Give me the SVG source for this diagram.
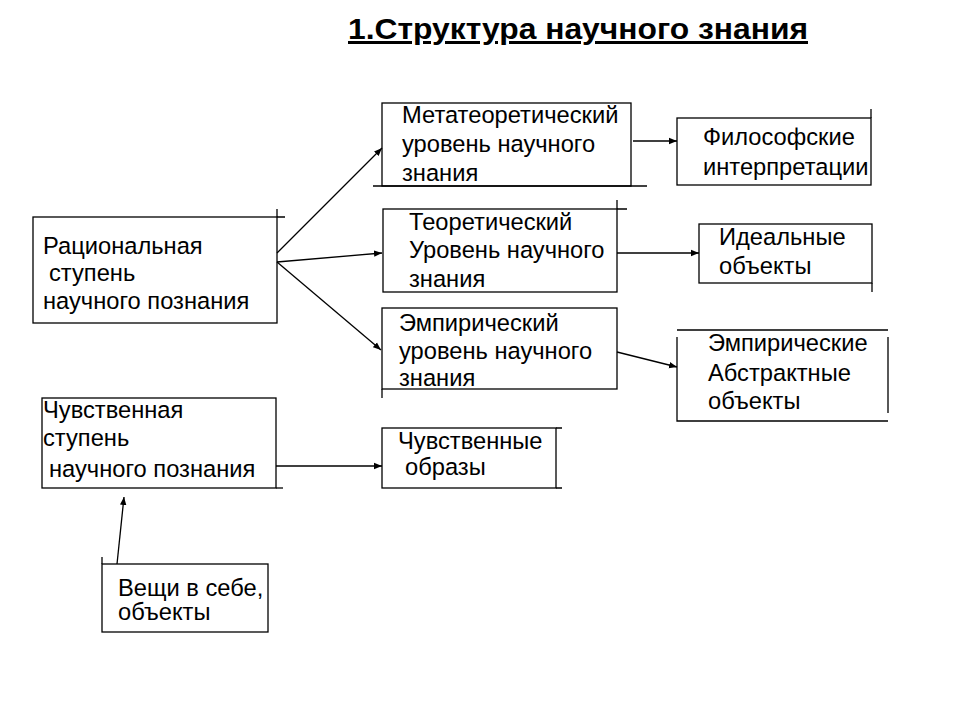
<svg xmlns="http://www.w3.org/2000/svg" width="960" height="720" viewBox="0 0 960 720">
<style>
.box{fill:#fff;stroke:#000;stroke-width:1.3}
.ln{fill:none;stroke:#000;stroke-width:1.3}
.t{font-family:"Liberation Sans",Arial,sans-serif;font-size:23.7px;fill:#000}
.title{font-family:"Liberation Sans",Arial,sans-serif;font-size:30px;font-weight:bold;fill:#000}
</style>
<defs>
<marker id="ah" viewBox="0 0 10 10" refX="10" refY="5" markerWidth="8" markerHeight="8" markerUnits="userSpaceOnUse" orient="auto">
<path d="M0,1 L10,5 L0,9 z" fill="#000"/>
</marker>
</defs>
<rect width="960" height="720" fill="#fff"/>
<text class="title" x="348" y="39" textLength="460" lengthAdjust="spacingAndGlyphs" text-decoration="underline">1.Структура научного знания</text>

<g id="n-meta">
<rect class="box" x="382" y="103" width="249" height="83"/>
<path class="ln" d="M373,186 H647"/>
<text class="t" x="402" y="123">Метатеоретический</text>
<text class="t" x="402" y="152">уровень научного</text>
<text class="t" x="402" y="181">знания</text>
</g>
<g id="n-philos">
<rect class="box" x="677" y="118" width="194" height="67"/>
<path class="ln" d="M871,109 V118"/>
<text class="t" x="703" y="145">Философские</text>
<text class="t" x="703" y="175">интерпретации</text>
</g>
<g id="n-rational">
<rect class="box" x="33" y="217" width="244" height="106"/>
<path class="ln" d="M277,217 H285 M277,209 V217"/>
<text class="t" x="43" y="254">Рациональная</text>
<text class="t" x="49" y="281">ступень</text>
<text class="t" x="43" y="309">научного познания</text>
</g>
<g id="n-theor">
<rect class="box" x="383" y="209" width="234" height="83"/>
<path class="ln" d="M617,209 H627 M617,200 V209"/>
<text class="t" x="409" y="230">Теоретический</text>
<text class="t" x="409" y="258">Уровень научного</text>
<text class="t" x="409" y="287">знания</text>
</g>
<g id="n-ideal">
<rect class="box" x="699" y="224" width="173" height="59"/>
<path class="ln" d="M872,283 V292"/>
<text class="t" x="719" y="245">Идеальные</text>
<text class="t" x="719" y="274">объекты</text>
</g>
<g id="n-empir">
<rect class="box" x="382" y="308" width="235" height="81"/>
<path class="ln" d="M382,389 V398"/>
<text class="t" x="399" y="331">Эмпирический</text>
<text class="t" x="399" y="359">уровень научного</text>
<text class="t" x="399" y="386">знания</text>
</g>
<g id="n-abstract">
<path class="ln" d="M677,330 H888 M677,337 V421 H888 M888,337 V413"/>
<text class="t" x="708" y="351">Эмпирические</text>
<text class="t" x="708" y="381">Абстрактные</text>
<text class="t" x="708" y="409">объекты</text>
</g>
<g id="n-sensual">
<rect class="box" x="42" y="398" width="234" height="90"/>
<path class="ln" d="M276,488 H283"/>
<text class="t" x="43" y="418">Чувственная</text>
<text class="t" x="43" y="446">ступень</text>
<text class="t" x="49" y="477">научного познания</text>
</g>
<g id="n-images">
<rect class="box" x="382" y="428" width="174" height="60"/>
<path class="ln" d="M556,428 H562 M556,488 H562"/>
<text class="t" x="398" y="449">Чувственные</text>
<text class="t" x="405" y="475">образы</text>
</g>
<g id="n-things">
<rect class="box" x="102" y="564" width="166" height="68"/>
<path class="ln" d="M102,557 V564"/>
<text class="t" x="118" y="596">Вещи в себе,</text>
<text class="t" x="118" y="620">объекты</text>
</g>

<g id="connectors">
<path class="ln" d="M277,253 L382,148" marker-end="url(#ah)"/>
<path class="ln" d="M277,262 L382,253" marker-end="url(#ah)"/>
<path class="ln" d="M277,262 L381,350" marker-end="url(#ah)"/>
<path class="ln" d="M633,141 L677,141" marker-end="url(#ah)"/>
<path class="ln" d="M617,253 L699,253" marker-end="url(#ah)"/>
<path class="ln" d="M617,352 L677,367" marker-end="url(#ah)"/>
<path class="ln" d="M276,466 L382,466" marker-end="url(#ah)"/>
<path class="ln" d="M117,564 L124,497" marker-end="url(#ah)"/>
</g>
</svg>
